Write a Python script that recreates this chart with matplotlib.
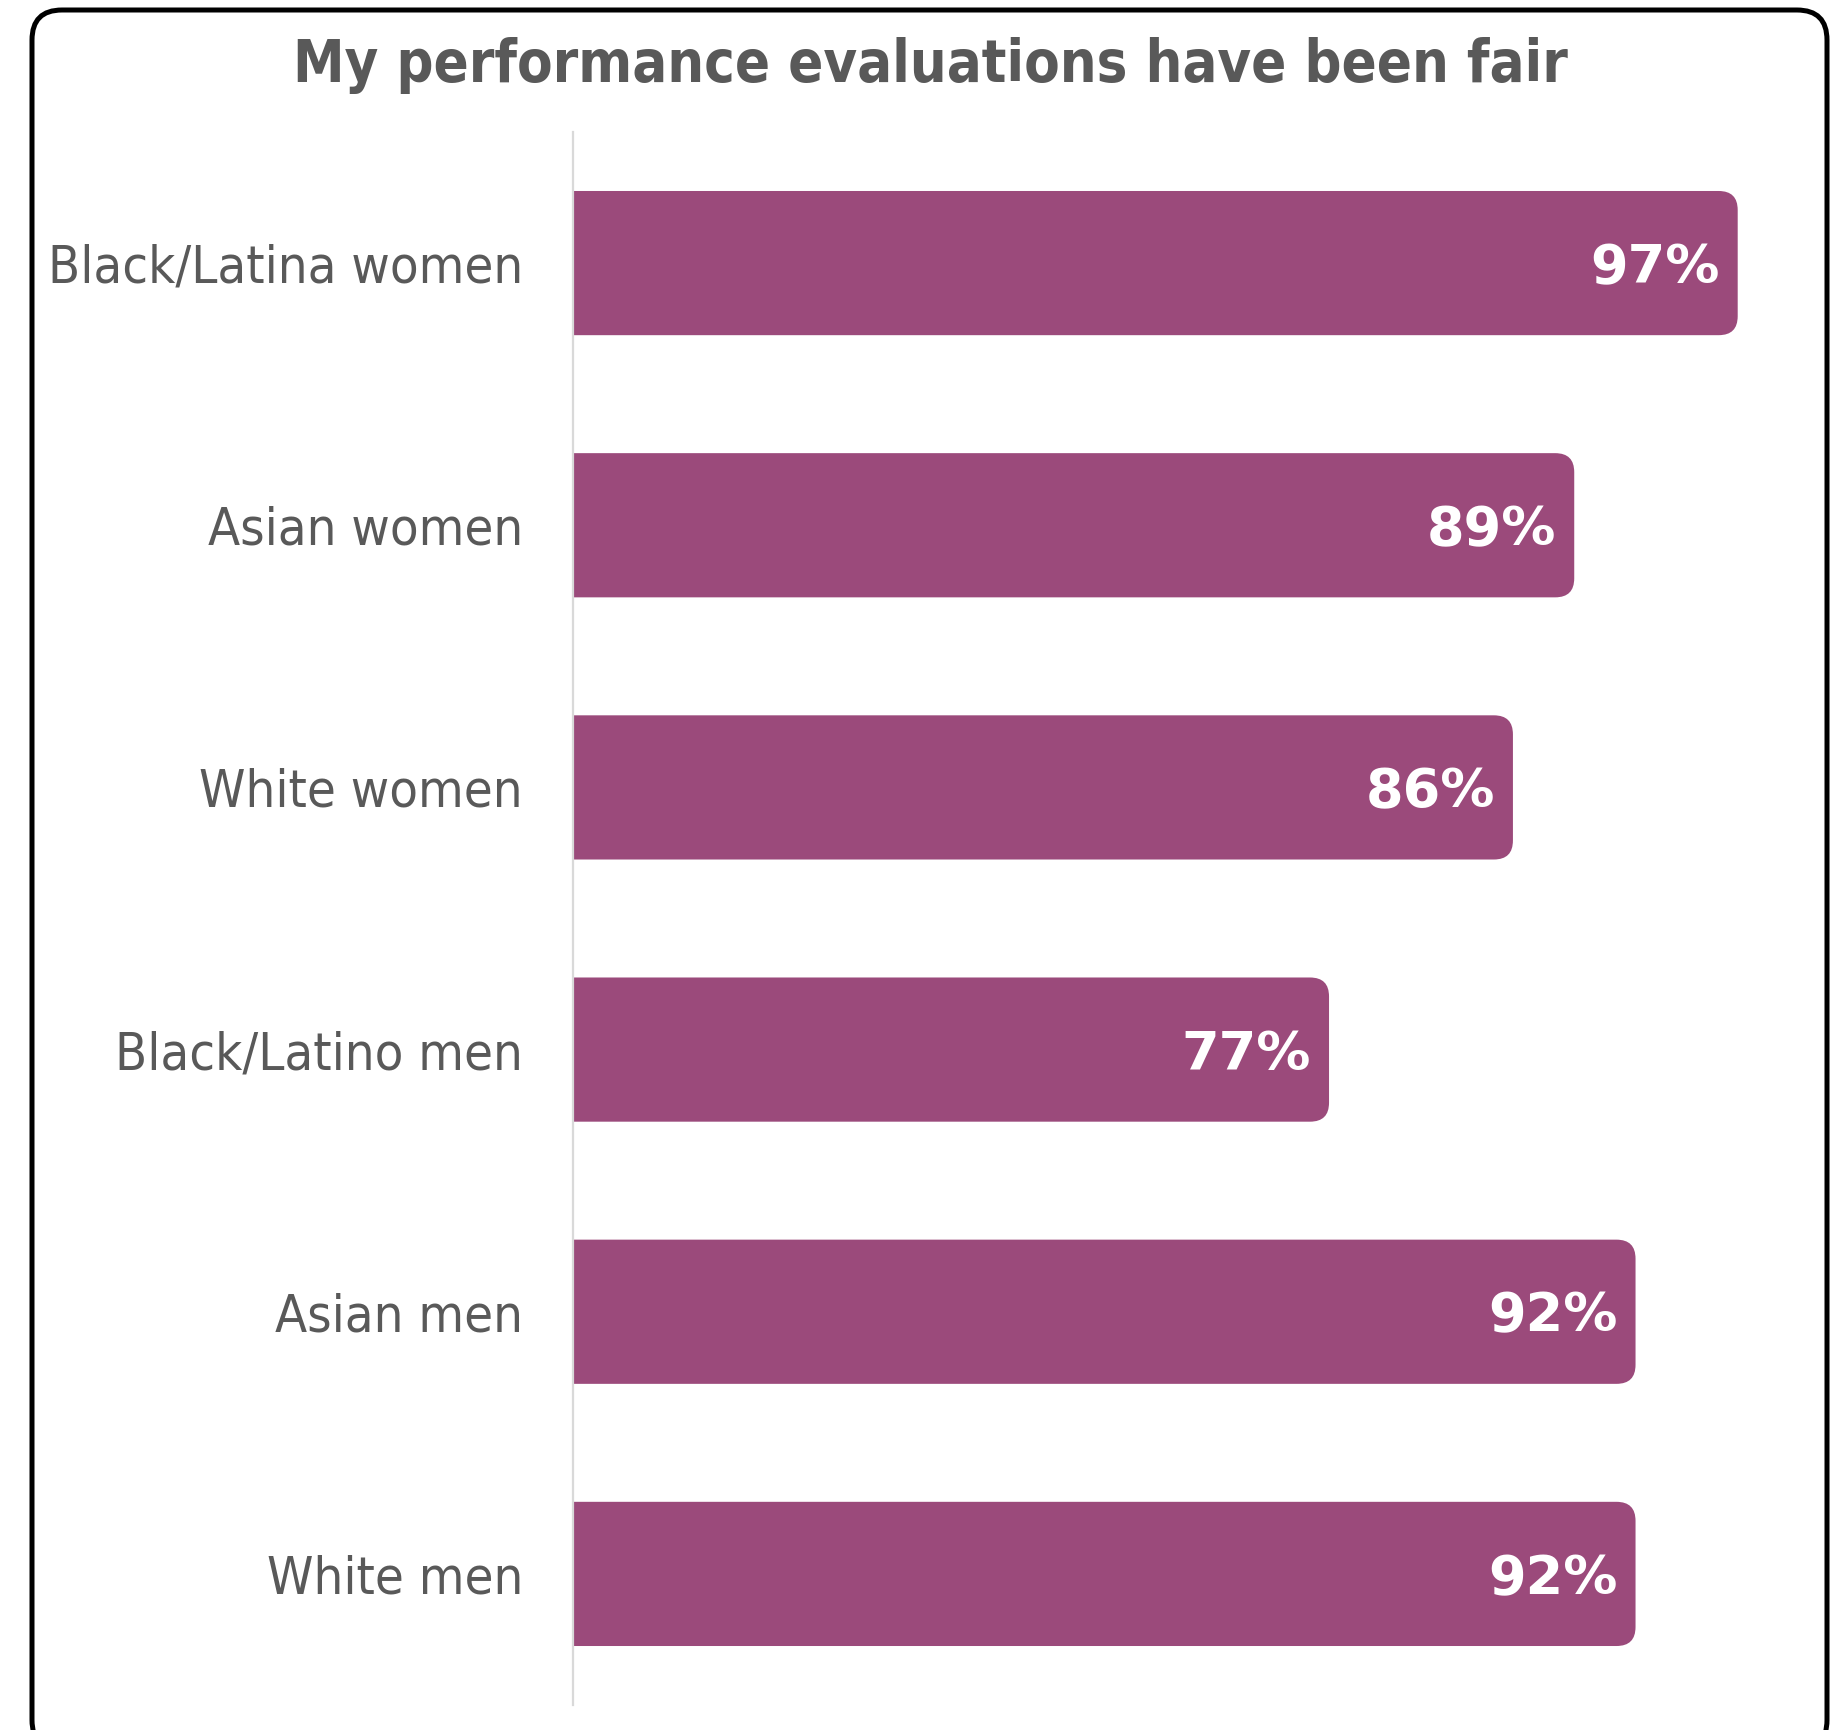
import matplotlib
matplotlib.use("Agg")
import matplotlib.pyplot as plt
from matplotlib.patches import FancyBboxPatch

# Survey results: share agreeing with the statement, by group
groups = ["Black/Latina women", "Asian women", "White women",
          "Black/Latino men", "Asian men", "White men"]
values = [97, 89, 86, 77, 92, 92]

title = "My performance evaluations have been fair"

BAR_COLOR = "#9B4A7B"
TEXT_COLOR = "#595959"

W, H, DPI = 1847, 1730, 100
fig = plt.figure(figsize=(W / DPI, H / DPI), dpi=DPI)
fig.patch.set_facecolor("white")

# Rounded frame around the whole chart (figure pixel coordinates)
frame = FancyBboxPatch((32, -20), 1795, 1740,
                       boxstyle="round,pad=0,rounding_size=30",
                       transform=None, facecolor="none",
                       edgecolor="black", linewidth=3.6, zorder=0)
fig.patches.append(frame)

ax = fig.add_axes([573 / W, 1 - 1705 / H, (1799 - 573) / W, (1705 - 132) / H])
ax.set_xlim(40, 100)
ax.set_ylim(5.5, -0.5)

bar_h = 0.55
# px per data unit, used to keep corner rounding circular
px_x = (1799 - 573) / 60
px_y = (1705 - 132) / 6
radius_px = 19
for i, v in enumerate(values):
    patch = FancyBboxPatch((0, i - bar_h / 2), v, bar_h,
                           boxstyle=f"round,pad=0,rounding_size={radius_px / px_x}",
                           mutation_aspect=px_x / px_y,
                           facecolor=BAR_COLOR, edgecolor="none", zorder=2)
    ax.add_patch(patch)
    ax.text(v - 18 / px_x, i + 5 / px_y, f"{v}%", ha="right", va="center",
            color="white", fontsize=39, fontweight="bold",
            family="DejaVu Sans", zorder=3)

ax.set_yticks(range(len(groups)))
ax.set_yticklabels(groups, fontsize=37.6, color=TEXT_COLOR,
                   family="DejaVu Sans", fontstretch="condensed")
ax.tick_params(axis="y", length=0, pad=36)
ax.set_xticks([])

for s in ("top", "right", "bottom"):
    ax.spines[s].set_visible(False)
ax.spines["left"].set_color("#D9D9D9")
ax.spines["left"].set_linewidth(1.6)
ax.set_facecolor("none")

fig.text(930 / W, 1 - 66 / H, title, ha="center", va="center",
         fontsize=41.5, fontweight="bold", fontstretch="condensed",
         color=TEXT_COLOR, family="DejaVu Sans")

fig.savefig("out.png", dpi=DPI, facecolor="white")
